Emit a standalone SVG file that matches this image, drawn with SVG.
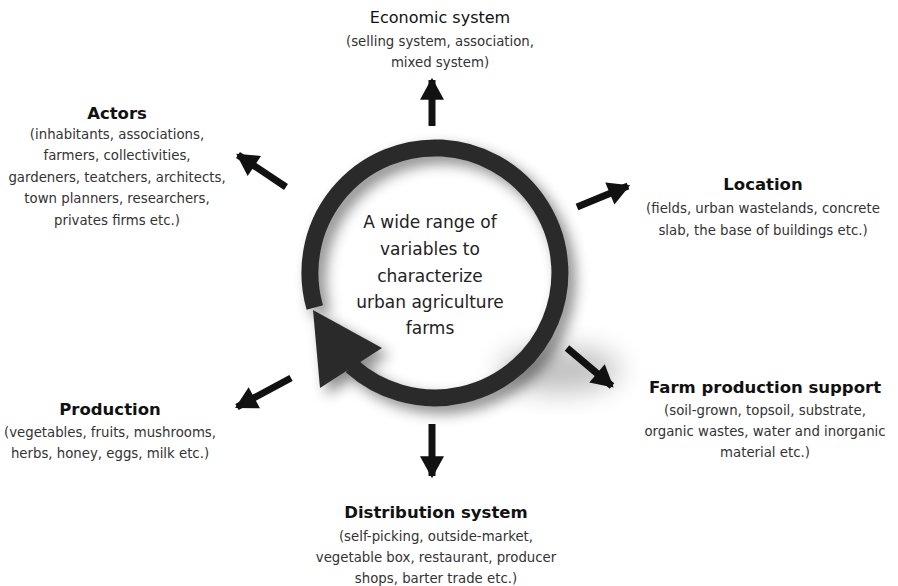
<svg xmlns="http://www.w3.org/2000/svg" width="898" height="586" viewBox="0 0 898 586">
<defs>
<marker id="ah" markerUnits="userSpaceOnUse" markerWidth="24" markerHeight="24" viewBox="0 0 20 22" refX="18" refY="11" orient="auto">
<path d="M0,0 L20,11 L0,22 Z" fill="#111"/>
</marker>
<filter id="sh" x="-30%" y="-30%" width="160%" height="160%">
<feDropShadow dx="7" dy="7" stdDeviation="7" flood-color="#000" flood-opacity="0.45"/>
</filter>
<filter id="blur" x="-50%" y="-50%" width="200%" height="200%">
<feGaussianBlur stdDeviation="14"/>
</filter>
</defs>
<style>
.t{font-family:"DejaVu Sans",sans-serif;fill:#111;text-anchor:middle;font-weight:bold;font-size:16.5px}
.s{font-family:"DejaVu Sans",sans-serif;fill:#333;text-anchor:middle;font-size:13.3px}
.c{font-family:"DejaVu Sans",sans-serif;fill:#222;text-anchor:middle;font-size:17px}
.arr{stroke:#111;stroke-width:7;fill:none;marker-end:url(#ah)}
</style>
<rect width="898" height="586" fill="#fff"/>
<g id="hub">
<ellipse cx="560" cy="370" rx="60" ry="22" fill="#000" opacity="0.25" filter="url(#blur)"/>
<g filter="url(#sh)">
<path d="M314.8,307.5 A125,125 0 1 1 351.4,365.9" fill="none" stroke="#2b2b2b" stroke-width="17"/>
<polygon points="313,310 382,348 320,388" fill="#2b2b2b"/>
</g>
<text class="c" x="430" y="228">A wide range of</text>
<text class="c" x="430" y="255">variables to</text>
<text class="c" x="430" y="282">characterize</text>
<text class="c" x="430" y="308">urban agriculture</text>
<text class="c" x="430" y="334">farms</text>
</g>
<g id="connectors">
<line class="arr" x1="432" y1="126" x2="432" y2="80"/>
<line class="arr" x1="286" y1="187" x2="238" y2="155"/>
<line class="arr" x1="577" y1="207" x2="628" y2="186"/>
<line class="arr" x1="567" y1="348" x2="612" y2="386"/>
<line class="arr" x1="432" y1="424" x2="432" y2="476"/>
<line class="arr" x1="291" y1="378" x2="237" y2="407"/>
</g>
<g id="economic">
<text class="t" x="440" y="23" style="font-weight:normal;font-size:16px">Economic system</text>
<text class="s" x="440" y="46">(selling system, association,</text>
<text class="s" x="440" y="67">mixed system)</text>
</g>
<g id="actors">
<text class="t" x="117" y="119">Actors</text>
<text class="s" x="117" y="139">(inhabitants, associations,</text>
<text class="s" x="117" y="160">farmers, collectivities,</text>
<text class="s" x="117" y="182">gardeners, teatchers, architects,</text>
<text class="s" x="117" y="203">town planners, researchers,</text>
<text class="s" x="117" y="225">privates firms etc.)</text>
</g>
<g id="location">
<text class="t" x="763" y="190">Location</text>
<text class="s" x="763" y="213">(fields, urban wastelands, concrete</text>
<text class="s" x="763" y="235">slab, the base of buildings etc.)</text>
</g>
<g id="farm">
<text class="t" x="765" y="393">Farm production support</text>
<text class="s" x="765" y="415">(soil-grown, topsoil, substrate,</text>
<text class="s" x="765" y="436">organic wastes, water and inorganic</text>
<text class="s" x="765" y="457">material etc.)</text>
</g>
<g id="production">
<text class="t" x="110" y="415">Production</text>
<text class="s" x="110" y="437">(vegetables, fruits, mushrooms,</text>
<text class="s" x="110" y="458">herbs, honey, eggs, milk etc.)</text>
</g>
<g id="distribution">
<text class="t" x="436" y="518">Distribution system</text>
<text class="s" x="436" y="541">(self-picking, outside-market,</text>
<text class="s" x="436" y="562">vegetable box, restaurant, producer</text>
<text class="s" x="436" y="583">shops, barter trade etc.)</text>
</g>
</svg>
